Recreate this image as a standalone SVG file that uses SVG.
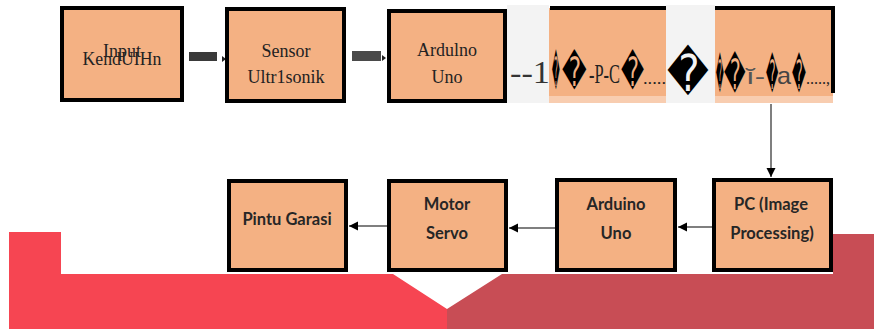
<svg xmlns="http://www.w3.org/2000/svg" width="874" height="329" viewBox="0 0 874 329">
<style>
.box{fill:#f4b183;stroke:#000;stroke-width:4}
.ser{font-family:"Liberation Serif",serif;font-size:18px;fill:#222;text-anchor:middle}
.cal{font-family:Lato,"Open Sans",sans-serif;font-weight:bold;font-size:16.5px;fill:#262626;text-anchor:middle}
.ln{stroke:#555;stroke-width:1.5;fill:none}
.dia{font-family:"DejaVu Sans",sans-serif;fill:#000}
</style>
<defs>
<marker id="ah" markerWidth="10" markerHeight="10" refX="9" refY="5" orient="auto" markerUnits="userSpaceOnUse">
<path d="M0,0.5 L9,5 L0,9.5 Z" fill="#000"/>
</marker>
</defs>
<rect width="874" height="329" fill="#fff"/>
<g id="background">
<polygon points="9,232 61,232 61,274 393,274 447,309 447,329 9,329" fill="#f64552"/>
<polygon points="447,309 502,274 833,274 833,234 874,234 874,329 447,329" fill="#c84d55"/>
<rect x="507" y="5" width="42" height="98" fill="#f3f3f3"/>
<rect x="666" y="5" width="49" height="98" fill="#f3f3f3"/>
</g>
<g id="connectors">
<rect x="189" y="52" width="28" height="9" fill="#3a3a3a"/>
<path d="M222,56 L226,59 L222,62 Z" fill="#222"/>
<rect x="352" y="51" width="29" height="10" fill="#4a4a4a"/>
<path d="M382,55 L386,58 L382,61 Z" fill="#222"/>
<line class="ln" x1="771" y1="104" x2="771" y2="177" marker-end="url(#ah)" stroke="#777"/>
<line class="ln" x1="712" y1="227" x2="678" y2="227" marker-end="url(#ah)"/>
<line class="ln" x1="555" y1="228" x2="509" y2="228" marker-end="url(#ah)"/>
<line class="ln" x1="387" y1="226" x2="349" y2="226" marker-end="url(#ah)"/>
</g>
<g id="n1">
<rect class="box" x="62" y="8" width="120" height="92"/>
<text class="ser" x="122" y="57">Input</text>
<text class="ser" x="122" y="65" textLength="79" lengthAdjust="spacingAndGlyphs">KendUIHn</text>
</g>
<g id="n2">
<rect class="box" x="227" y="9" width="117" height="92"/>
<text class="ser" x="286" y="57">Sensor</text>
<text class="ser" x="286" y="83">Ultr1sonik</text>
</g>
<g id="n3">
<rect class="box" x="389" y="11" width="116" height="90"/>
<text class="ser" x="447" y="56">Ardulno</text>
<text class="ser" x="447" y="83">Uno</text>
</g>
<g id="n4">
<rect x="549" y="8" width="117" height="88" fill="#f4b183"/>
<rect x="549" y="96" width="117" height="7" fill="#f8cdb0"/>
<rect x="550" y="6" width="116" height="4" fill="#000"/>
<text x="510" y="83" font-family="Liberation Serif,serif" font-size="32" fill="#333" textLength="40" lengthAdjust="spacingAndGlyphs">--1</text>
<text class="dia" transform="translate(552,86) scale(0.25,1.35)" font-size="30">&#xFFFD;</text>
<text class="dia" transform="translate(562,86) scale(0.8,1.35)" font-size="30">&#xFFFD;</text>
<text x="589" y="83" font-family="Liberation Serif,serif" font-size="28" fill="#222" textLength="31" lengthAdjust="spacingAndGlyphs">-P-C</text>
<text class="dia" transform="translate(621,86) scale(0.75,1.35)" font-size="30">&#xFFFD;</text>
<text x="643" y="84" font-family="Liberation Serif,serif" font-size="16" fill="#222" textLength="23" lengthAdjust="spacingAndGlyphs">.....</text>
</g>
<g id="glyph">
<text class="dia" transform="translate(667,91) scale(1.2,1.5)" font-size="34">&#xFFFD;</text>
</g>
<g id="n5">
<rect x="715" y="8" width="118" height="88" fill="#f4b183"/>
<rect x="715" y="96" width="118" height="7" fill="#f8cdb0"/>
<rect x="715" y="6" width="120" height="4" fill="#000"/>
<rect x="831" y="6" width="4" height="87" fill="#000"/>
<text class="dia" transform="translate(716,89) scale(0.25,1.35)" font-size="30">&#xFFFD;</text>
<text class="dia" transform="translate(724,89) scale(0.7,1.4)" font-size="30">&#xFFFD;</text>
<text x="746" y="84" font-family="Liberation Sans,sans-serif" font-size="22" fill="#555" textLength="19" lengthAdjust="spacingAndGlyphs">ĭ-</text>
<text class="dia" transform="translate(766,89) scale(0.4,1.35)" font-size="30">&#xFFFD;</text>
<text x="777" y="84" font-family="Liberation Sans,sans-serif" font-size="24" fill="#444" textLength="14" lengthAdjust="spacingAndGlyphs">a</text>
<text class="dia" transform="translate(792,89) scale(0.45,1.35)" font-size="30">&#xFFFD;</text>
<text x="806" y="84" font-family="Liberation Serif,serif" font-size="16" fill="#222" textLength="24" lengthAdjust="spacingAndGlyphs">.....,</text>
</g>
<g id="n6">
<rect class="box" x="229" y="181" width="117" height="89"/>
<text class="cal" x="287" y="225">Pintu Garasi</text>
</g>
<g id="n7">
<rect class="box" x="389" y="181" width="117" height="89"/>
<text class="cal" x="447" y="210">Motor</text>
<text class="cal" x="447" y="239">Servo</text>
</g>
<g id="n8">
<rect class="box" x="557" y="180" width="118" height="90"/>
<text class="cal" x="616" y="210">Arduino</text>
<text class="cal" x="616" y="239">Uno</text>
</g>
<g id="n9">
<rect class="box" x="714" y="180" width="117" height="90"/>
<text class="cal" x="771" y="210">PC (Image</text>
<text class="cal" x="772" y="239">Processing)</text>
</g>
</svg>
